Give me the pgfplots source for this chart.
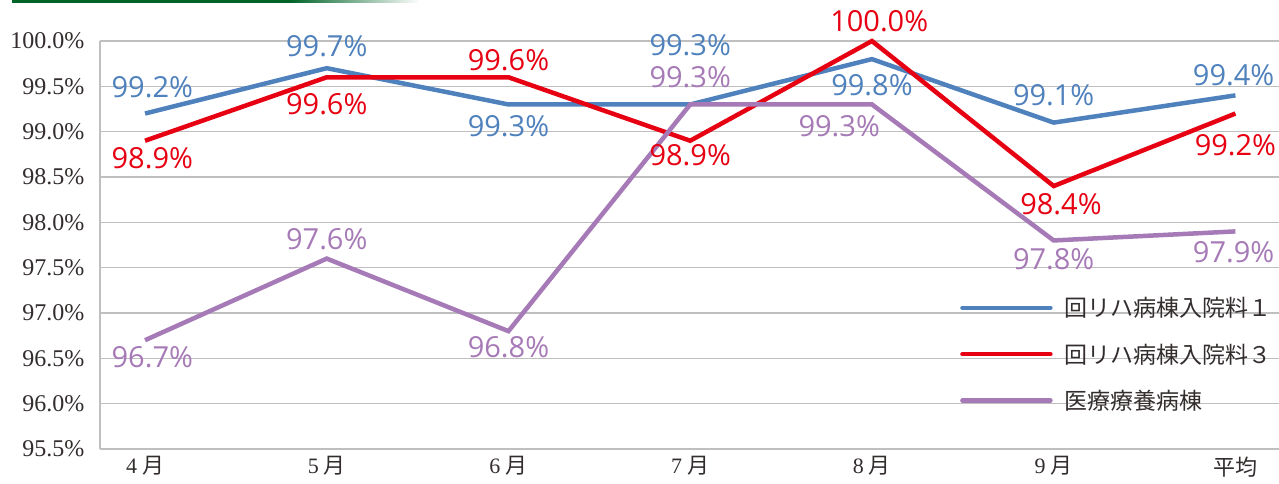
\documentclass[border=0pt]{standalone}
\usepackage{fontspec}
\setmainfont{Liberation Serif}
\newfontfamily\jp{Noto Sans CJK JP}
\newfontfamily\lab{Open Sans}
\usepackage{pgfplots}
\pgfplotsset{compat=1.18}
\definecolor{cblue}{RGB}{79,129,189}
\definecolor{cred}{RGB}{230,0,18}
\definecolor{cpurp}{RGB}{166,122,182}
\definecolor{cgrid}{RGB}{191,191,191}
\definecolor{ctxt}{RGB}{51,45,45}
\definecolor{cgreen}{RGB}{0,100,40}
\newcommand\mo[1]{#1\hspace{5pt}{\jp 月}}
\begin{document}
\begin{tikzpicture}
\begin{axis}[
  at={(0pt,0pt)}, anchor=south west,
  width=1179pt, height=408pt, scale only axis,
  xmin=-0.2477, xmax=6.24, ymin=95.5, ymax=100,
  clip=false,
  axis x line*=bottom, axis y line*=left,
  axis line style={draw=cgrid, line width=1.5pt, -},
  ymajorgrids, grid style={draw=cgrid, line width=1.5pt},
  major tick length=0pt,
  xtick={0,1,2,3,4,5,6},
  xticklabels={\mo{4},\mo{5},\mo{6},\mo{7},\mo{8},\mo{9},{\jp 平均}},
  ytick={95.5,96,96.5,97,97.5,98,98.5,99,99.5,100},
  yticklabels={95.5\%,96.0\%,96.5\%,97.0\%,97.5\%,98.0\%,98.5\%,99.0\%,99.5\%,100.0\%},
  yticklabel style={font=\fontsize{24}{24}\selectfont, text=ctxt, xshift=-12pt},
  xticklabel style={font=\fontsize{22}{22}\selectfont, text=ctxt, yshift=-4pt},
  legend style={draw=none, fill=none, at={(0.7294,0.372)}, anchor=north west,
    inner sep=0pt, row sep=25.5pt, column sep=12pt,
    font=\jp\fontsize{23}{23}\selectfont, text=ctxt,
    nodes={inner sep=0pt}},
  legend cell align=left,
  legend image code/.code={\draw[#1, line cap=round] (0pt,0pt) -- (88pt,0pt);},
]
\addplot[cblue, line width=4.5pt, mark=none] coordinates {(0,99.2)(1,99.7)(2,99.3)(3,99.3)(4,99.8)(5,99.1)(6,99.4)};
\addlegendentry{回リハ病棟入院料１}
\addplot[cred, line width=4.5pt, mark=none] coordinates {(0,98.9)(1,99.6)(2,99.6)(3,98.9)(4,100.0)(5,98.4)(6,99.2)};
\addlegendentry{回リハ病棟入院料３}
\addplot[cpurp, line width=4.5pt, mark=none] coordinates {(0,96.7)(1,97.6)(2,96.8)(3,99.3)(4,99.3)(5,97.8)(6,97.9)};
\addlegendentry{医療療養病棟}

\addplot[forget plot, draw=none, mark=none, nodes near coords, point meta=explicit symbolic,
  every node near coord/.style={anchor=center, text=cblue, font=\lab\fontsize{29}{29}\selectfont, inner sep=0pt}]
  coordinates {(0.04,99.49)[99.2\%] (1,99.945)[99.7\%] (2,99.063)[99.3\%] (3,99.956)[99.3\%] (4,99.515)[99.8\%] (5,99.405)[99.1\%] (5.99,99.625)[99.4\%]};
\addplot[forget plot, draw=none, mark=none, nodes near coords, point meta=explicit symbolic,
  every node near coord/.style={anchor=center, text=cred, font=\lab\fontsize{29}{29}\selectfont, inner sep=0pt}]
  coordinates {(0.04,98.71)[98.9\%] (1,99.305)[99.6\%] (2,99.79)[99.6\%] (3,98.74)[98.9\%] (4.04,100.22)[100.0\%] (5.04,98.203)[98.4\%] (6,98.853)[99.2\%]};
\addplot[forget plot, draw=none, mark=none, nodes near coords, point meta=explicit symbolic,
  every node near coord/.style={anchor=center, text=cpurp, font=\lab\fontsize{29}{29}\selectfont, inner sep=0pt}]
  coordinates {(0.04,96.516)[96.7\%] (1,97.817)[97.6\%] (2,96.626)[96.8\%] (3,99.603)[99.3\%] (3.82,99.063)[99.3\%] (5,97.596)[97.8\%] (5.99,97.674)[97.9\%]};
\end{axis}
\fill[cgreen] (-88pt,446pt) rectangle (190pt,449pt);
\shade[left color=cgreen, right color=white] (190pt,446pt) rectangle (320pt,449pt);
\pgfresetboundingbox
\path (-100pt,-35pt) rectangle (1179pt,449pt);
\end{tikzpicture}
\end{document}
